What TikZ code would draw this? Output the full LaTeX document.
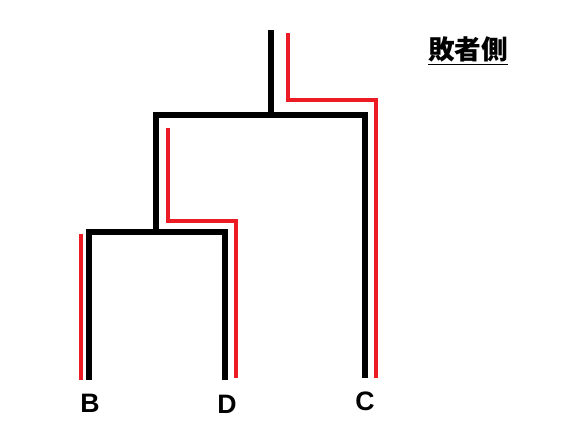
\documentclass[tikz,border=0pt]{standalone}
\usepackage{fontspec}
\setmainfont{Liberation Sans}
\newfontfamily\jpfont{Noto Sans CJK JP}
\usetikzlibrary{positioning}
\definecolor{routered}{RGB}{237,28,36}

\begin{document}
\begin{tikzpicture}[%
    x=0.75pt,
    y=-0.75pt,
    bracket/.style={%
        draw=black,
        line width=3.8pt
    },
    route/.style={%
        draw=routered,
        line width=3pt
    },
    player/.style={%
        font=\bfseries\fontsize{20}{21}\selectfont,
        inner sep=0pt
    },
    title/.style={%
        font=\jpfont\bfseries\fontsize{20}{21}\selectfont,
        inner sep=0pt
    }
]
\useasboundingbox (0,0) rectangle (564,425);

% Players
    \node[player] (B) at (90,403) {B};
    \node[player] (D) at (227,404) {D};
    \node[player] (C) at (365,401) {C};

% Title
    \node[title] (loser) at (468,51) {\underline{敗者側}};

% Bracket corners
    \coordinate (b1) at (89,380);
    \coordinate (b2) at (89,232);
    \coordinate (b3) at (225,232);
    \coordinate (b4) at (225,380);
    \coordinate (m1) at (156,232);
    \coordinate (m2) at (156,115);
    \coordinate (m3) at (365,115);
    \coordinate (m4) at (365,378);
    \coordinate (t1) at (271,115);
    \coordinate (t2) at (271,30);

% Red route
    \coordinate (r1) at (81,380);
    \coordinate (r2) at (81,234);
    \coordinate (s1) at (168,128);
    \coordinate (s2) at (168,221);
    \coordinate (s3) at (236,221);
    \coordinate (s4) at (236,378);
    \coordinate (u1) at (288,33);
    \coordinate (u2) at (288,100);
    \coordinate (u3) at (376,100);
    \coordinate (u4) at (376,378);

% Lines
\draw[bracket] (b1) -- (b2) -- (b3) -- (b4);
\draw[bracket] (m1) -- (m2) -- (m3) -- (m4);
\draw[bracket] (t1) -- (t2);

\draw[route] (r1) -- (r2);
\draw[route] (s1) -- (s2) -- (s3) -- (s4);
\draw[route] (u1) -- (u2) -- (u3) -- (u4);

\end{tikzpicture}
\end{document}
